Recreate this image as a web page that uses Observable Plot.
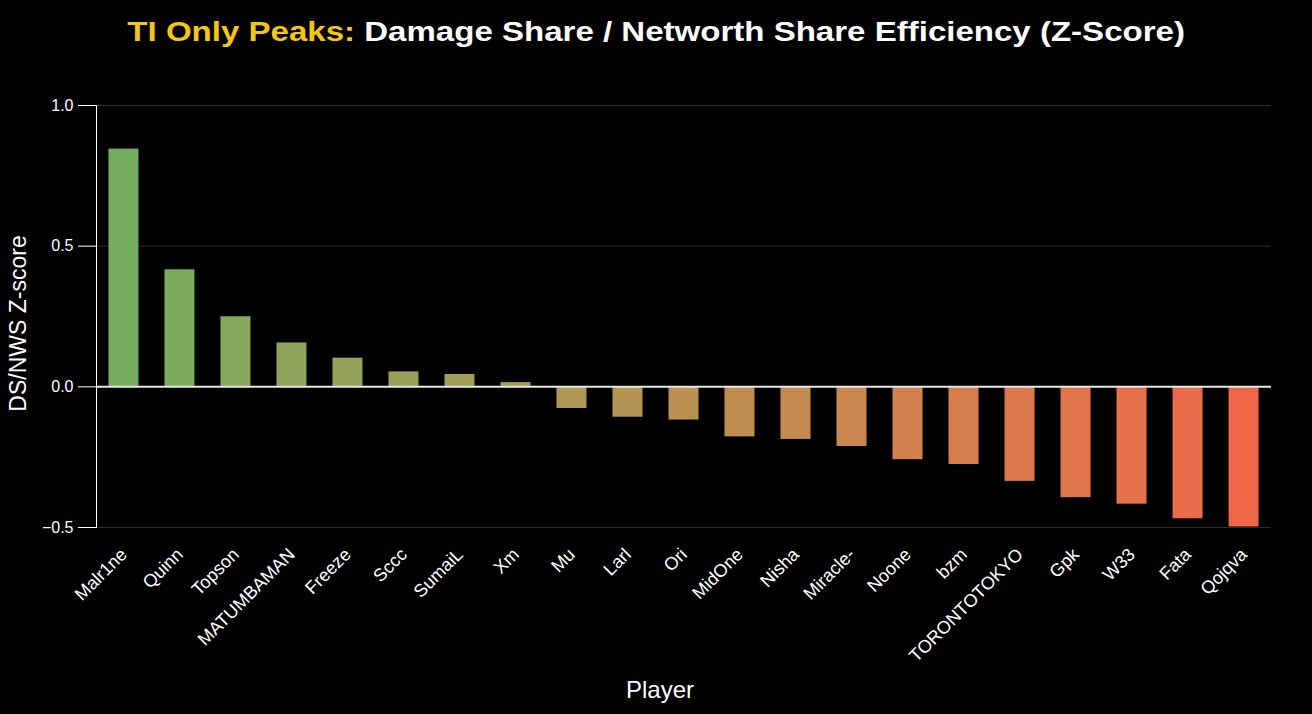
<!DOCTYPE html>
<html><head><meta charset="utf-8">
<script src="https://cdn.jsdelivr.net/npm/d3@7"></script>
<script src="https://cdn.jsdelivr.net/npm/@observablehq/plot@0.6"></script>
<style>
html,body{margin:0;padding:0;background:#000;}
body{width:1312px;height:714px;overflow:hidden;font-family:"Liberation Sans",Arial,sans-serif;}
#title{height:70px;box-sizing:border-box;padding-top:16px;line-height:32px;text-align:center;font-weight:bold;font-size:28px;color:#fff;white-space:nowrap;}
#title span.wrap{display:inline-block;transform:scaleX(1.18);transform-origin:50% 50%;}
#title .hl{color:#F5C518;}
#chart svg{display:block;}
</style></head>
<body>
<div id="title"><span class="wrap"><span class="hl">TI Only Peaks:</span> Damage Share / Networth Share Efficiency (Z-Score)</span></div>
<div id="chart"></div>
<script>
const players = ["Malr1ne","Quinn","Topson","MATUMBAMAN","Freeze","Sccc","SumaiL","Xm","Mu","Larl","Ori","MidOne","Nisha","Miracle-","Noone","bzm","TORONTOTOKYO","Gpk","W33","Fata","Qojqva"];
const zScores = [0.845,0.416,0.249,0.156,0.102,0.053,0.044,0.015,-0.077,-0.108,-0.118,-0.178,-0.187,-0.212,-0.259,-0.276,-0.336,-0.394,-0.417,-0.469,-0.498];
const yTicks = [-0.5,0,0.5,1.0];

const data = players.map((p,i)=>({player:p, value:zScores[i], rank:i}));

const chart = Plot.plot({
  width:1312, height:644,
  marginTop:35, marginBottom:187, marginLeft:96, marginRight:41,
  style:{background:"#000", color:"#fff", fontFamily:"'Liberation Sans', Arial, sans-serif"},
  x:{domain:players, paddingInner:0.464, paddingOuter:0.222, round:false},
  y:{domain:[-0.5,1.0]},
  color:{type:"linear", domain:[0, players.length-1], range:["#74ad5e","#ef6548"], interpolate:"lab"},
  marks:[
    Plot.gridY(yTicks.filter(d=>d!==0), {stroke:"#2c2c2c", strokeOpacity:1}),
    Plot.barY(data,{x:"player", y:"value", fill:"rank"}),
    Plot.ruleY([0],{stroke:"#e6e6e6", strokeWidth:2}),
    Plot.axisY(yTicks,{tickFormat:".1f", tickSize:18, tickPadding:5, fontSize:16, label:null, stroke:"#fff"}),
    Plot.axisX({tickSize:0, tickRotate:-45, tickPadding:24, fontSize:18, label:null}),
    Plot.frame({anchor:"left", stroke:"#fff"}),
    Plot.text(["DS/NWS Z-score"],{frameAnchor:"left", textAnchor:"middle", lineAnchor:"middle", dx:-78, dy:7, rotate:-90, fontSize:23, fill:"#fff"}),
    Plot.text(["Player"],{frameAnchor:"bottom", dx:-24, dy:170, fontSize:24, fill:"#fff"})
  ]
});
document.getElementById("chart").appendChild(chart);
</script>
</body></html>
